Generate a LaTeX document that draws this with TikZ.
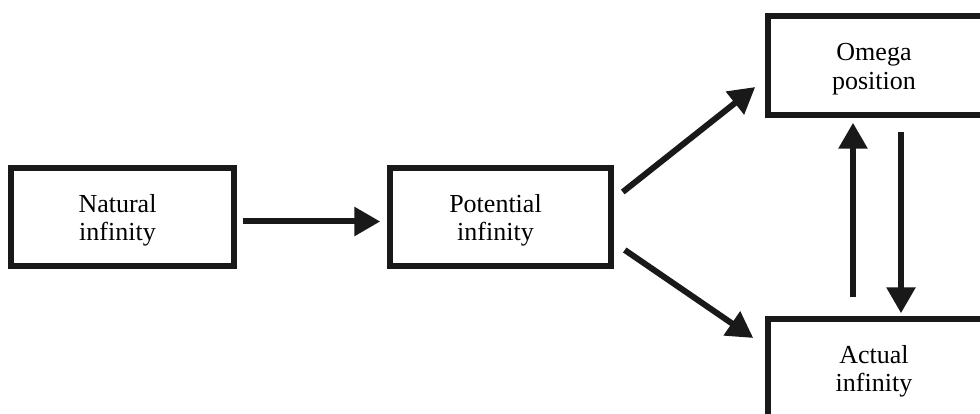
\documentclass[tikz,border=0pt]{standalone}
\usepackage{fontspec}
\setmainfont{Liberation Serif}
\usetikzlibrary{arrows.meta}
\begin{document}
\begin{tikzpicture}[x=1pt,y=-1pt,
  boxnode/.style={draw=black!90, line width=5.5pt, rectangle, inner sep=0pt},
  txt/.style={align=center, font=\fontsize{26}{28.5}\selectfont, inner sep=0pt, xshift=-5pt, yshift=-3.5pt},
  arr/.style={line width=6pt, draw=black!90, -{Triangle[length=26pt,width=28pt]}}]
\useasboundingbox (0,0) rectangle (980,414);
\clip (0,0) rectangle (980,414);
\node[boxnode, minimum width=223pt, minimum height=98pt, label={[txt]center:Natural\\infinity}] (nat) at (122.5,217) {};
\node[boxnode, minimum width=221pt, minimum height=98pt, label={[txt]center:Potential\\infinity}] (pot) at (500.5,217) {};
\node[boxnode, minimum width=222pt, minimum height=99pt, label={[txt]center:Omega\\position}] (omg) at (879,65.5) {};
\node[boxnode, minimum width=222pt, minimum height=98pt, label={[txt]center:Actual\\infinity}] (act) at (879,368) {};
\draw[arr] ([shift={(6,4.5)}]nat.east) -- ([shift={(-7,4.5)}]pot.west);
\draw[arr] ([shift={(9,-25)}]pot.east) -- ([shift={(-10,21.5)}]omg.west);
\draw[arr] ([shift={(11,33)}]pot.east) -- ([shift={(-12,-30)}]act.west);
\draw[arr] ([shift={(-26,-19)}]act.north) -- ([shift={(-26,5)}]omg.south);
\draw[arr] ([shift={(22,14)}]omg.south) -- ([shift={(22,-3)}]act.north);
\end{tikzpicture}
\end{document}
